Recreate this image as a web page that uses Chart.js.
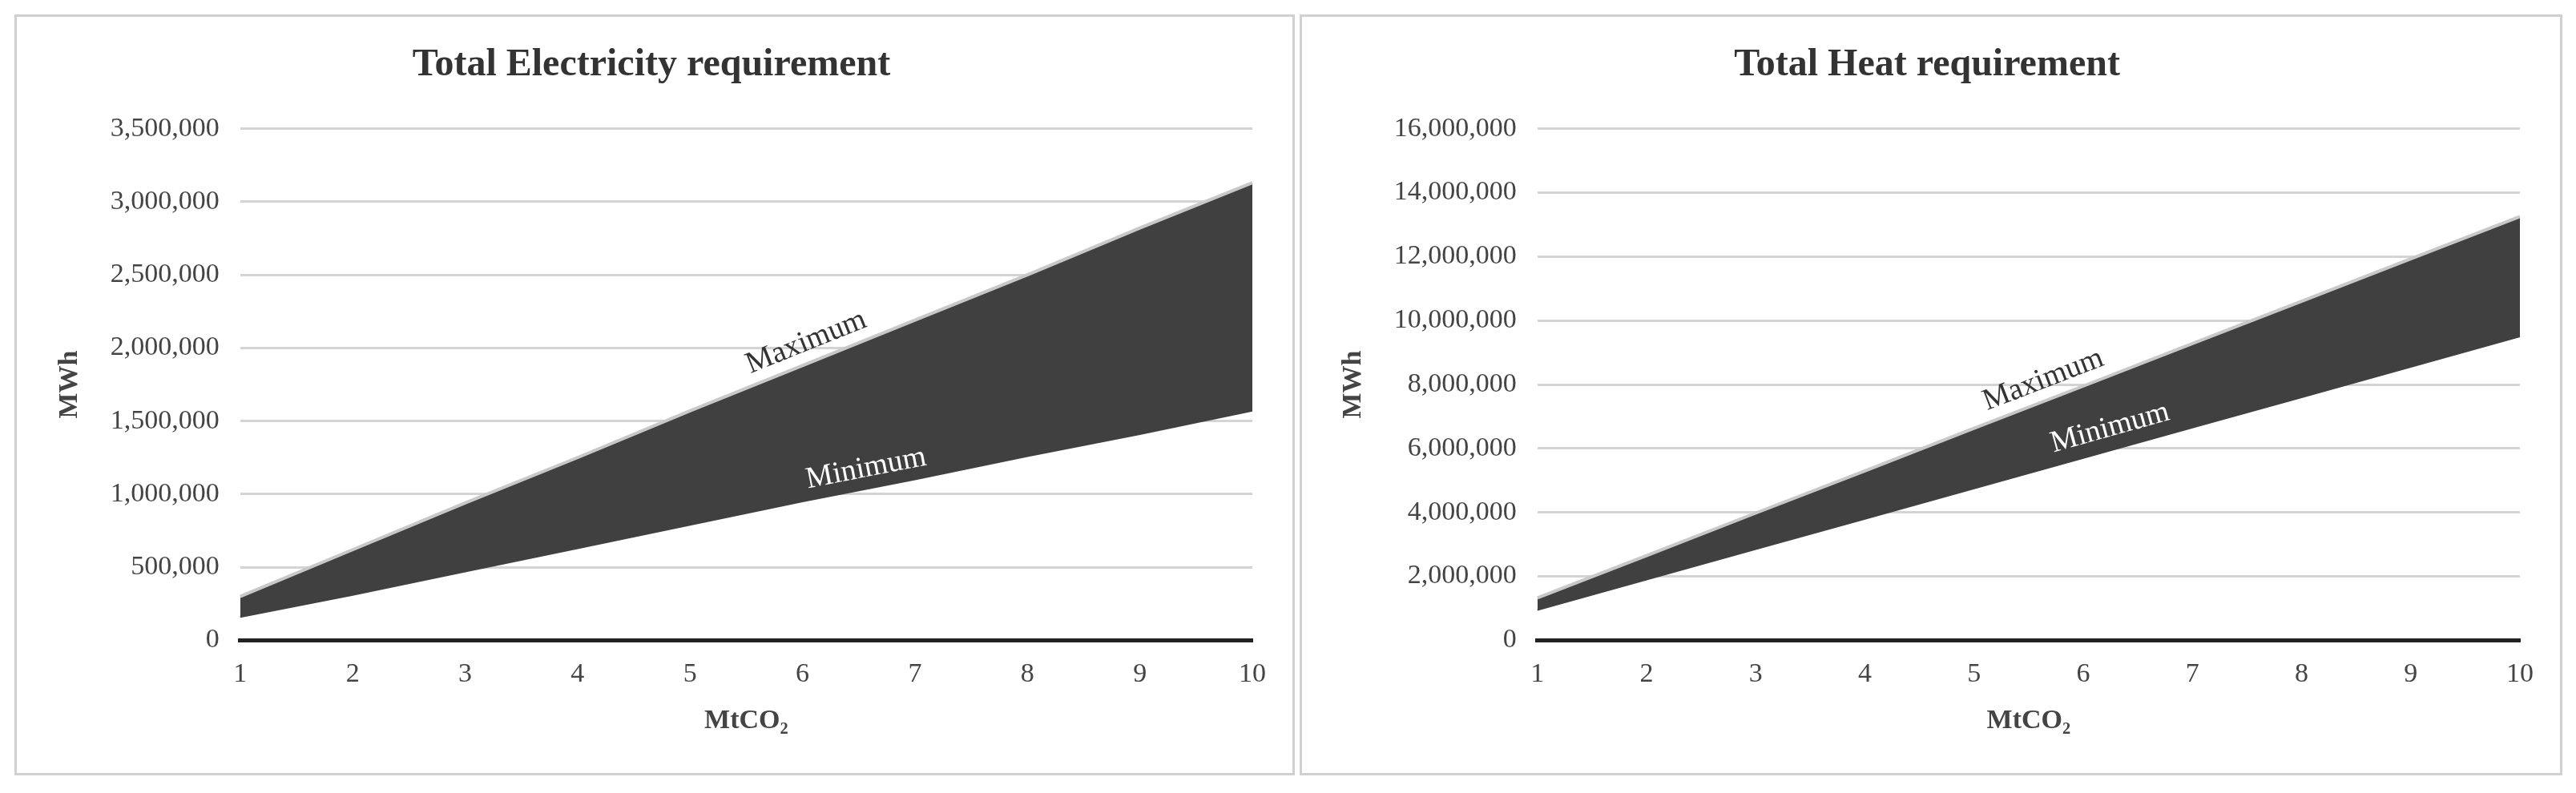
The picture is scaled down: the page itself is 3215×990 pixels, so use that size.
<!DOCTYPE html>
<html><head><meta charset="utf-8">
<script src="https://cdn.jsdelivr.net/npm/chart.js@4"></script>
<style>
body{margin:0;background:#fff;width:3215px;height:990px;position:relative;overflow:hidden}
.p{position:absolute;border:3px solid #d0d0d0;box-sizing:border-box;background:#fff}
</style></head><body>
<div class="p" style="left:18px;top:18px;width:1598px;height:950px"><canvas id="c1"></canvas></div>
<div class="p" style="left:1622px;top:18px;width:1576px;height:950px"><canvas id="c2"></canvas></div>
<script>
const categories=['1','2','3','4','5','6','7','8','9','10'];
const elecMax=[300000,620000,940000,1250000,1570000,1880000,2190000,2500000,2820000,3130000];
const elecMin=[160000,310000,470000,630000,790000,950000,1100000,1260000,1410000,1570000];
const heatMax=[1330000,2650000,3980000,5300000,6630000,7950000,9280000,10600000,11930000,13250000];
const heatMin=[950000,1900000,2850000,3800000,4750000,5700000,6650000,7600000,8550000,9500000];
const FONT='"Liberation Serif", "Times New Roman", serif';

const labelPlugin={id:'bandLabels',afterDatasetsDraw(chart,args,opts){
  const ctx=chart.ctx;
  (opts.items||[]).forEach(it=>{
    const pts=chart.getDatasetMeta(it.ds).data;
    const i=Math.floor(it.x), f=it.x-i;
    const a=pts[i],b=pts[i+1];
    const px=a.x+(b.x-a.x)*f, py=a.y+(b.y-a.y)*f;
    const ang=Math.atan2(b.y-a.y,b.x-a.x);
    ctx.save();ctx.translate(px,py);ctx.rotate(ang);
    ctx.font='38px '+FONT;ctx.fillStyle=it.color;ctx.textAlign='center';ctx.textBaseline='bottom';
    ctx.fillText(it.text,0,-it.off);ctx.restore();
  });
}};

function make(id,title,mx,mn,ymax,step,labels,pad){
  new Chart(document.getElementById(id),{
    type:'line',
    data:{labels:categories,datasets:[
      {data:mn,borderColor:'#404040',borderWidth:2,pointRadius:0,fill:false,tension:0},
      {data:mx,borderColor:'#c8c8c8',borderWidth:4,backgroundColor:'#404040',pointRadius:0,fill:'-1',tension:0}
    ]},
    options:{responsive:false,animation:false,devicePixelRatio:1,
      layout:{padding:pad},
      plugins:{legend:{display:false},tooltip:{enabled:false},
        title:{display:true,text:title,color:'#333',font:{family:FONT,size:48},padding:{top:22,bottom:50}},
        bandLabels:{items:labels}},
      scales:{
        x:{offset:false,grid:{display:false},border:{color:'#222',width:5},
          ticks:{color:'#444',font:{family:FONT,size:34},padding:14,maxRotation:0},
          title:{display:true,text:'MtCO₂',color:'#444',font:{family:FONT,size:34,weight:'bold'},padding:{top:4}}},
        y:{min:0,max:ymax,grid:{color:ctx=>ctx.tick.value===0?'#222':'#d4d4d4',lineWidth:ctx=>ctx.tick.value===0?5:3,drawTicks:false},
          border:{display:false},
          ticks:{stepSize:step,color:'#444',font:{family:FONT,size:34},padding:26,callback:v=>v.toLocaleString('en-US')},
          title:{display:true,text:'MWh',color:'#444',font:{family:FONT,size:34,weight:'bold'},padding:{bottom:4}}}
      }},
    plugins:[labelPlugin]
  });
}
document.getElementById('c1').width=1592;document.getElementById('c1').height=944;
document.getElementById('c2').width=1570;document.getElementById('c2').height=944;
make('c1','Total Electricity requirement',elecMax,elecMin,3500000,500000,
  [{ds:1,x:5.1,text:'Maximum',color:'#333',off:6},{ds:0,x:5.6,text:'Minimum',color:'#fff',off:6}],
  {left:42,right:50,top:10,bottom:40});
make('c2','Total Heat requirement',heatMax,heatMin,16000000,2000000,
  [{ds:1,x:4.7,text:'Maximum',color:'#333',off:6},{ds:0,x:5.3,text:'Minimum',color:'#fff',off:8}],
  {left:40,right:50,top:10,bottom:40});
</script></body></html>
